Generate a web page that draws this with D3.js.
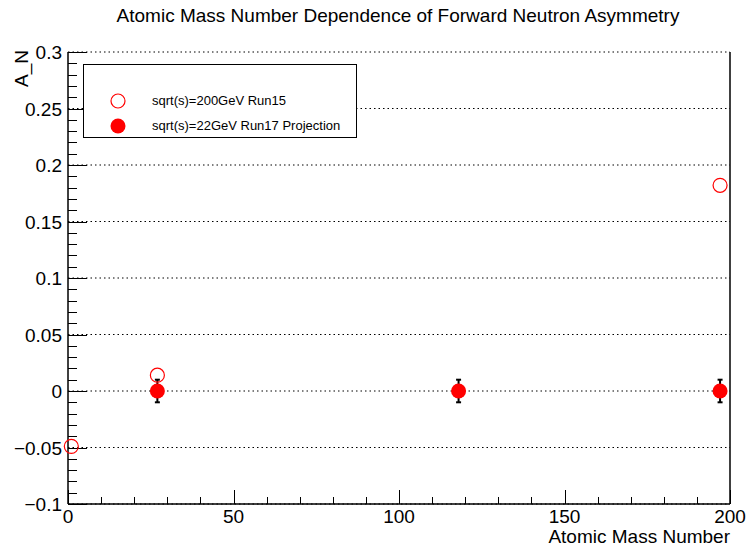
<!DOCTYPE html>
<html><head><meta charset="utf-8">
<script src="https://cdn.jsdelivr.net/npm/d3@7"></script>
<style>body{margin:0;background:#fff}svg{display:block}text{font-family:"Liberation Sans",Arial,Helvetica,sans-serif}</style>
</head><body><svg id="c" width="747" height="549"></svg>
<script>
const run15A = [1, 27, 197];
const run15Y = [-0.049, 0.014, 0.182];
const run17A = [27, 118, 197];
const run17Y = [0, 0, 0];
const run17Err = [0.01, 0.01, 0.01];
const yTicks = [-0.1, -0.05, 0, 0.05, 0.1, 0.15, 0.2, 0.25, 0.3];
const xTicks = [0, 50, 100, 150, 200];
const legendLabels = ["sqrt(s)=200GeV Run15", "sqrt(s)=22GeV Run17 Projection"];
const title = "Atomic Mass Number Dependence of Forward Neutron Asymmetry";

const svg = d3.select("#c");
const L = 68, R = 730, T = 52, B = 504;
const x = d3.scaleLinear().domain([0, 200]).range([L, R]);
const y = d3.scaleLinear().domain([-0.1, 0.3]).range([B, T]);
const fmt = v => (v === 0 ? "0" : d3.format("")(+v.toFixed(2))).replace("-", "\u2212");

// grid
svg.append("g").selectAll("line").data(yTicks).join("line")
  .attr("x1", L).attr("x2", R).attr("y1", d => y(d)).attr("y2", d => y(d))
  .attr("stroke", "#000").attr("stroke-width", 1).attr("stroke-dasharray", "1.5,3");

// minor y ticks
const yMinor = d3.range(-0.1, 0.3001, 0.01);
svg.append("g").selectAll("line").data(yMinor).join("line")
  .attr("x1", L).attr("x2", L + 9).attr("y1", d => Math.round(y(d)) + 0.5).attr("y2", d => Math.round(y(d)) + 0.5)
  .attr("stroke", "#000");
svg.append("g").selectAll("line").data(yTicks).join("line")
  .attr("x1", L).attr("x2", L + 19).attr("y1", d => Math.round(y(d)) + 0.5).attr("y2", d => Math.round(y(d)) + 0.5)
  .attr("stroke", "#000");
// minor x ticks
const xMinor = d3.range(0, 201, 10);
svg.append("g").selectAll("line").data(xMinor).join("line")
  .attr("x1", d => Math.round(x(d)) + 0.5).attr("x2", d => Math.round(x(d)) + 0.5).attr("y1", B).attr("y2", B - 7)
  .attr("stroke", "#000");
svg.append("g").selectAll("line").data(xTicks).join("line")
  .attr("x1", d => Math.round(x(d)) + 0.5).attr("x2", d => Math.round(x(d)) + 0.5).attr("y1", B).attr("y2", B - 14)
  .attr("stroke", "#000");

// frame
svg.append("line").attr("x1", L).attr("x2", L).attr("y1", T).attr("y2", B).attr("stroke", "#000").attr("stroke-width", 1.5);
svg.append("line").attr("x1", L).attr("x2", R).attr("y1", B).attr("y2", B).attr("stroke", "#000").attr("stroke-width", 1.5);
svg.append("line").attr("x1", R).attr("x2", R).attr("y1", T).attr("y2", B).attr("stroke", "#000").attr("stroke-width", 1.5);

// tick labels
svg.append("g").selectAll("text").data(yTicks).join("text")
  .attr("x", L - 6).attr("y", d => y(d) + 7).attr("text-anchor", "end").attr("font-size", 19)
  .text(d => fmt(d));
svg.append("g").selectAll("text").data(xTicks).join("text")
  .attr("x", d => x(d)).attr("y", B + 19).attr("text-anchor", "middle").attr("font-size", 19)
  .text(d => fmt(d));

// axis titles
svg.append("text").attr("x", R).attr("y", 543).attr("text-anchor", "end").attr("font-size", 19).text("Atomic Mass Number");
svg.append("text").attr("transform", "translate(28,50) rotate(-90)").attr("text-anchor", "end").attr("font-size", 19).text("A_N");
svg.append("text").attr("x", 398).attr("y", 22).attr("text-anchor", "middle").attr("font-size", 19).text(title);

// error bars for Run17
const eb = svg.append("g");
run17A.forEach((a, i) => {
  const cx = x(a), y0 = y(run17Y[i] - run17Err[i]), y1 = y(run17Y[i] + run17Err[i]);
  eb.append("line").attr("x1", cx).attr("x2", cx).attr("y1", y0).attr("y2", y1).attr("stroke", "#000").attr("stroke-width", 2);
  eb.append("line").attr("x1", cx - 2.5).attr("x2", cx + 2.5).attr("y1", y0).attr("y2", y0).attr("stroke", "#000").attr("stroke-width", 2);
  eb.append("line").attr("x1", cx - 2.5).attr("x2", cx + 2.5).attr("y1", y1).attr("y2", y1).attr("stroke", "#000").attr("stroke-width", 2);
});
svg.append("g").selectAll("circle").data(run17A).join("circle")
  .attr("cx", d => x(d)).attr("cy", (d, i) => y(run17Y[i])).attr("r", 7.5).attr("fill", "#ff0000");
svg.append("g").selectAll("circle").data(run15A).join("circle")
  .attr("cx", d => x(d)).attr("cy", (d, i) => y(run15Y[i])).attr("r", 7)
  .attr("fill", "none").attr("stroke", "#ff0000").attr("stroke-width", 1.2);

// legend
const lg = svg.append("g");
lg.append("rect").attr("x", 83.5).attr("y", 64.5).attr("width", 273).attr("height", 73).attr("fill", "#fff").attr("stroke", "#000");
lg.append("circle").attr("cx", 118).attr("cy", 101).attr("r", 7).attr("fill", "none").attr("stroke", "#ff0000").attr("stroke-width", 1.2);
lg.append("circle").attr("cx", 118).attr("cy", 126).attr("r", 7.5).attr("fill", "#ff0000");
lg.selectAll("text").data(legendLabels).join("text")
  .attr("x", 152).attr("y", (d, i) => 105 + i * 25).attr("font-size", 13).text(d => d);
</script></body></html>
